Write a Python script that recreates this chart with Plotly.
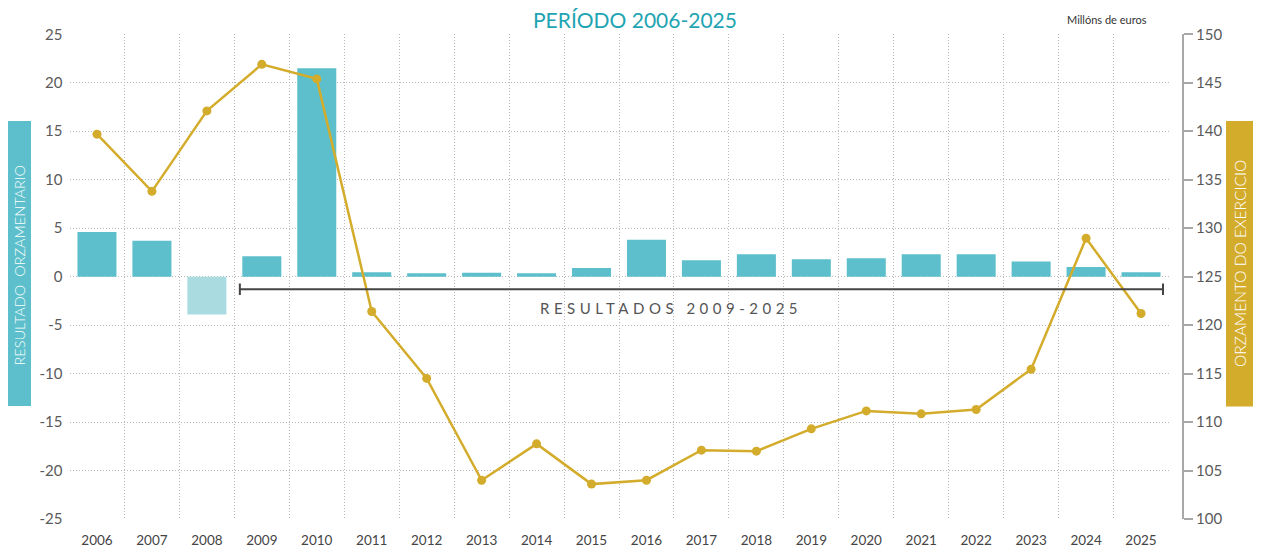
import plotly.graph_objects as go

years = [str(y) for y in range(2006, 2026)]
resultado = [4.6, 3.7, -3.9, 2.1, 21.5, 0.45, 0.35, 0.4, 0.35, 0.9,
             3.8, 1.7, 2.3, 1.8, 1.9, 2.3, 2.3, 1.55, 1.0, 0.45]
orzamento = [139.7, 133.8, 142.1, 146.9, 145.4, 121.4, 114.5, 104.0, 107.75, 103.6,
             104.0, 107.1, 107.0, 109.3, 111.15, 110.85, 111.3, 115.45, 128.96, 121.2]
left_ticks = list(range(-25, 30, 5))
left_tick_labels = [str(v) for v in left_ticks]
right_ticks = list(range(100, 155, 5))
right_tick_labels = [str(v) for v in right_ticks]

TEAL = "#5cbfcb"
TEAL_LIGHT = "#a9dbe1"
GOLD = "#d4ac2c"
GRID = "#b8b8b8"
FONT = "Lato"

# page body has an 8px margin; size the figure so it fits the 1262x549 window
OFF = 8
W, H = 1262 - OFF, 549 - OFF
def px(x):
    return (x - OFF) / W
def py(y):
    return (H - (y - OFF)) / H

bar_colors = [TEAL_LIGHT if v < 0 else TEAL for v in resultado]

fig = go.Figure()
fig.add_trace(go.Bar(x=years, y=resultado, marker=dict(color=bar_colors, line=dict(width=0)),
                     width=0.71, yaxis="y", showlegend=False))
fig.add_trace(go.Scatter(x=years, y=orzamento, mode="lines+markers", yaxis="y2",
                         line=dict(color=GOLD, width=2.5), marker=dict(color=GOLD, size=9),
                         showlegend=False))

fig.update_layout(
    width=W, height=H,
    margin=dict(l=0, r=0, t=0, b=0),
    paper_bgcolor="white", plot_bgcolor="white",
    font=dict(family=FONT, color="#555"),
    xaxis=dict(domain=[px(69.5), px(1168.5)], type="category", range=[-0.5, 19.5],
               tickson="boundaries", showgrid=True, gridcolor=GRID, griddash="1px,2px", gridwidth=1,
               ticks="", showline=False, zeroline=False, automargin=False,
               tickfont=dict(size=13.5, color="#444", family=FONT), ticklabelstandoff=11),
    yaxis=dict(domain=[py(519), py(34.3)], range=[-25, 25], tickvals=left_ticks,
               ticktext=left_tick_labels,
               showgrid=True, gridcolor=GRID, griddash="1px,2px", gridwidth=1, zeroline=False,
               showline=False, ticks="", automargin=False,
               tickfont=dict(size=15, color="#5a5a5a", family=FONT), ticklabelstandoff=6),
    yaxis2=dict(overlaying="y", anchor="free", position=px(1183), side="right",
                range=[100, 150], tickvals=right_ticks, ticktext=right_tick_labels,
                showgrid=False, zeroline=False,
                showline=True, linecolor="#a8a8a8", linewidth=2, ticks="outside", ticklen=9,
                tickcolor="#a8a8a8", tickwidth=1.5, automargin=False,
                tickfont=dict(size=15, color="#5a5a5a", family=FONT)),
    bargap=0.29,
)

shapes = []
# left and right label boxes
shapes.append(dict(type="rect", xref="paper", yref="paper", x0=px(5), x1=px(31), y0=py(406), y1=py(121),
                   fillcolor=TEAL, line=dict(width=0), layer="below"))
shapes.append(dict(type="rect", xref="paper", yref="paper", x0=px(1226), x1=px(1253), y0=py(406.5), y1=py(121),
                   fillcolor=GOLD, line=dict(width=0), layer="below"))
# bracket for 2009-2025
bx0, bx1, by = 2.6, 19.4, -1.3
shapes.append(dict(type="line", xref="x", yref="y", x0=bx0, x1=bx1, y0=by, y1=by,
                   line=dict(color="#444", width=2)))
for bx in (bx0, bx1):
    shapes.append(dict(type="line", xref="x", yref="y", x0=bx, x1=bx, y0=by + 0.6, y1=by - 0.6,
                       line=dict(color="#444", width=2)))
fig.update_layout(shapes=shapes)

annotations = [
    dict(text="PERÍODO 2006-2025", xref="paper", yref="paper", x=px(635), y=py(20),
         xanchor="center", yanchor="middle",
         showarrow=False, font=dict(size=21, color="#1ea4b2", family=FONT)),
    dict(text="Millóns de euros", xref="paper", yref="paper", x=px(1107), y=py(19),
         xanchor="center", yanchor="middle",
         showarrow=False, font=dict(size=11, color="#333", family=FONT)),
    dict(text="RESULTADO  ORZAMENTARIO", xref="paper", yref="paper", x=px(18.5), y=py(265),
         xanchor="center", yanchor="middle",
         textangle=-90, showarrow=False, font=dict(size=14.5, color="white", family=FONT, weight=300)),
    dict(text="ORZAMENTO DO EXERCICIO", xref="paper", yref="paper", x=px(1240), y=py(264),
         xanchor="center", yanchor="middle",
         textangle=-90, showarrow=False, font=dict(size=15.5, color="white", family=FONT, weight=300)),
    dict(text='<span style="letter-spacing:4.5px">RESULTADOS 2009-2025</span>', xref="x", yref="y",
         x=10.45, y=-3.2, xanchor="center", yanchor="middle", showarrow=False,
         font=dict(size=15, color="#555", family=FONT, weight=400)),
]
fig.update_layout(annotations=annotations)

fig.write_html("out.html")
